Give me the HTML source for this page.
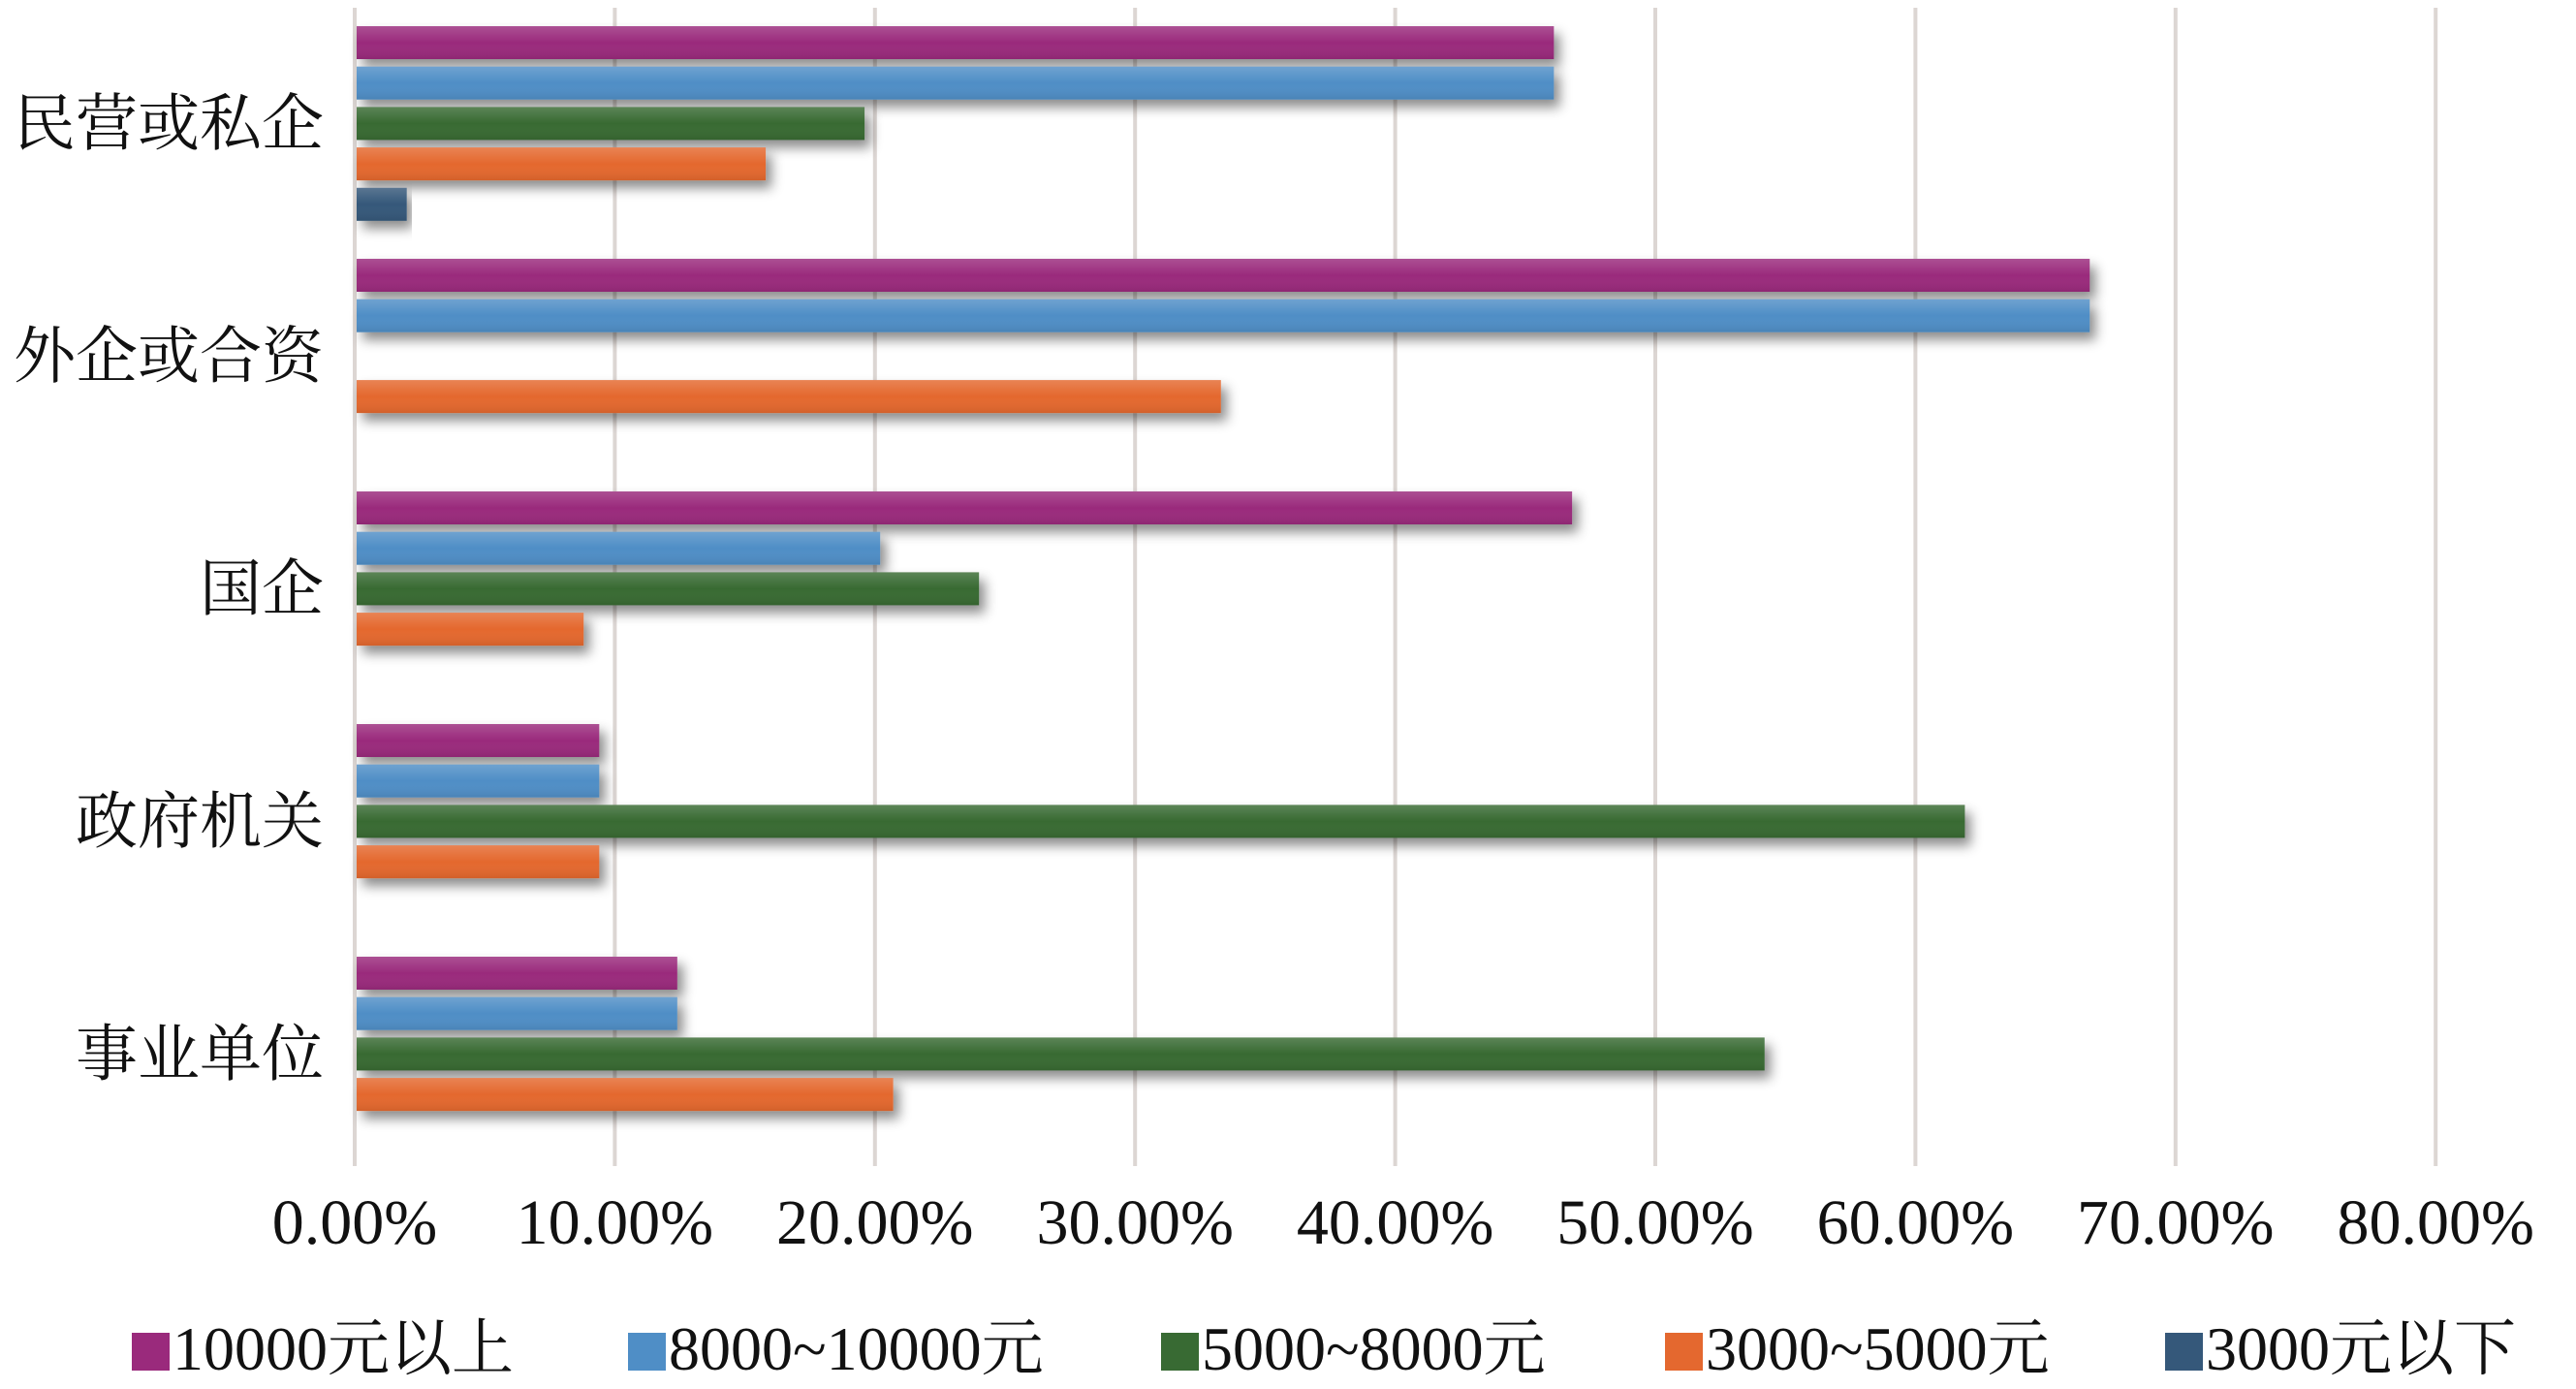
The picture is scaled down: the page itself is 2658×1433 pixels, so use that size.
<!DOCTYPE html>
<html><head><meta charset="utf-8"><style>
html,body{margin:0;padding:0;background:#fff;}
svg{display:block;}
text{font-family:"Liberation Serif","Noto Serif CJK SC",serif;fill:#111;}
</style></head><body>
<svg id="chart" width="2658" height="1433" viewBox="0 0 2658 1433" xmlns="http://www.w3.org/2000/svg">
<defs>
<filter id="sh" x="-5%" y="-50%" width="115%" height="250%"><feDropShadow dx="6" dy="8" stdDeviation="6" flood-color="#000" flood-opacity="0.45"/></filter>
<linearGradient id="gl" x1="0" y1="0" x2="0" y2="1"><stop offset="0" stop-color="#fff" stop-opacity="0.18"/><stop offset="0.5" stop-color="#fff" stop-opacity="0"/><stop offset="1" stop-color="#000" stop-opacity="0.08"/></linearGradient>
</defs>
<g id="grid"></g>
<g id="bars"></g>
<g id="cats"></g>
<g id="ticks"></g>
<g id="legend"></g>
</svg>
<script>
const categories = ["民营或私企","外企或合资","国企","政府机关","事业单位"];
const seriesNames = ["10000元以上","8000~10000元","5000~8000元","3000~5000元","3000元以下"];
const s10000plus = [46.1,66.7,46.8,9.4,12.4];
const s8000to10000 = [46.1,66.7,20.2,9.4,12.4];
const s5000to8000 = [19.6,0,24.0,61.9,54.2];
const s3000to5000 = [15.8,33.3,8.8,9.4,20.7];
const s3000minus = [2.0,0,0,0,0];
const tickValues = [0,10,20,30,40,50,60,70,80];
const tickLabels = ["0.00%","10.00%","20.00%","30.00%","40.00%","50.00%","60.00%","70.00%","80.00%"];

const series = [s10000plus,s8000to10000,s5000to8000,s3000to5000,s3000minus];
const colors = ["#9a2a7c","#4f8ec6","#386a33","#e4682f","#35587a"];
const NS="http://www.w3.org/2000/svg";
const x0=366, xPer=26.84;
function xs(v){return x0+v*xPer;}
const groupTop=27, groupPitch=240, barPitch=41.7, barH=34;
function ys(ci,si){return groupTop+ci*groupPitch+si*barPitch;}
function mk(tag,attrs,parent){const e=document.createElementNS(NS,tag);for(const k in attrs)e.setAttribute(k,attrs[k]);parent.appendChild(e);return e;}

const grid=document.getElementById('grid');
tickValues.forEach((v,i)=>{
  const l=mk('line',{x1:xs(v),x2:xs(v),y1:8,y2:1203,stroke:'#dcd6d3','stroke-width':4},grid);
  
  
});
const bars=document.getElementById('bars');
categories.forEach((c,ci)=>{
  series.forEach((s,si)=>{
    const v=s[ci]; if(v<=0)return;
    const g=mk('g',{},bars);
    
    
    mk('rect',{x:xs(0)+2,y:ys(ci,si),width:xs(v)-xs(0)-2,height:barH,fill:colors[si],filter:'url(#sh)'},g);
    mk('rect',{x:xs(0)+2,y:ys(ci,si),width:xs(v)-xs(0)-2,height:barH,fill:'url(#gl)'},g);
  });
});
const cats=document.getElementById('cats');
categories.forEach((c,ci)=>{
  const t=mk('text',{x:334,y:ys(ci,2)+barH/2+22,'text-anchor':'end','font-size':64},cats);
  t.textContent=c;
  
  
});
const ticks=document.getElementById('ticks');
tickValues.forEach((v,i)=>{
  const t=mk('text',{x:xs(v),y:1283,'text-anchor':'middle','font-size':66},ticks);
  t.textContent=tickLabels[i];
  
  
});
const legend=document.getElementById('legend');
const lx=[136,648,1198,1718,2234];
seriesNames.forEach((n,i)=>{
  const g=mk('g',{},legend);
  
  
  mk('rect',{x:lx[i],y:1375,width:39,height:39,fill:colors[i]},g);
  const t=mk('text',{x:lx[i]+42,y:1413,'font-size':64},g);
  t.textContent=n;
});
</script>
</body></html>
